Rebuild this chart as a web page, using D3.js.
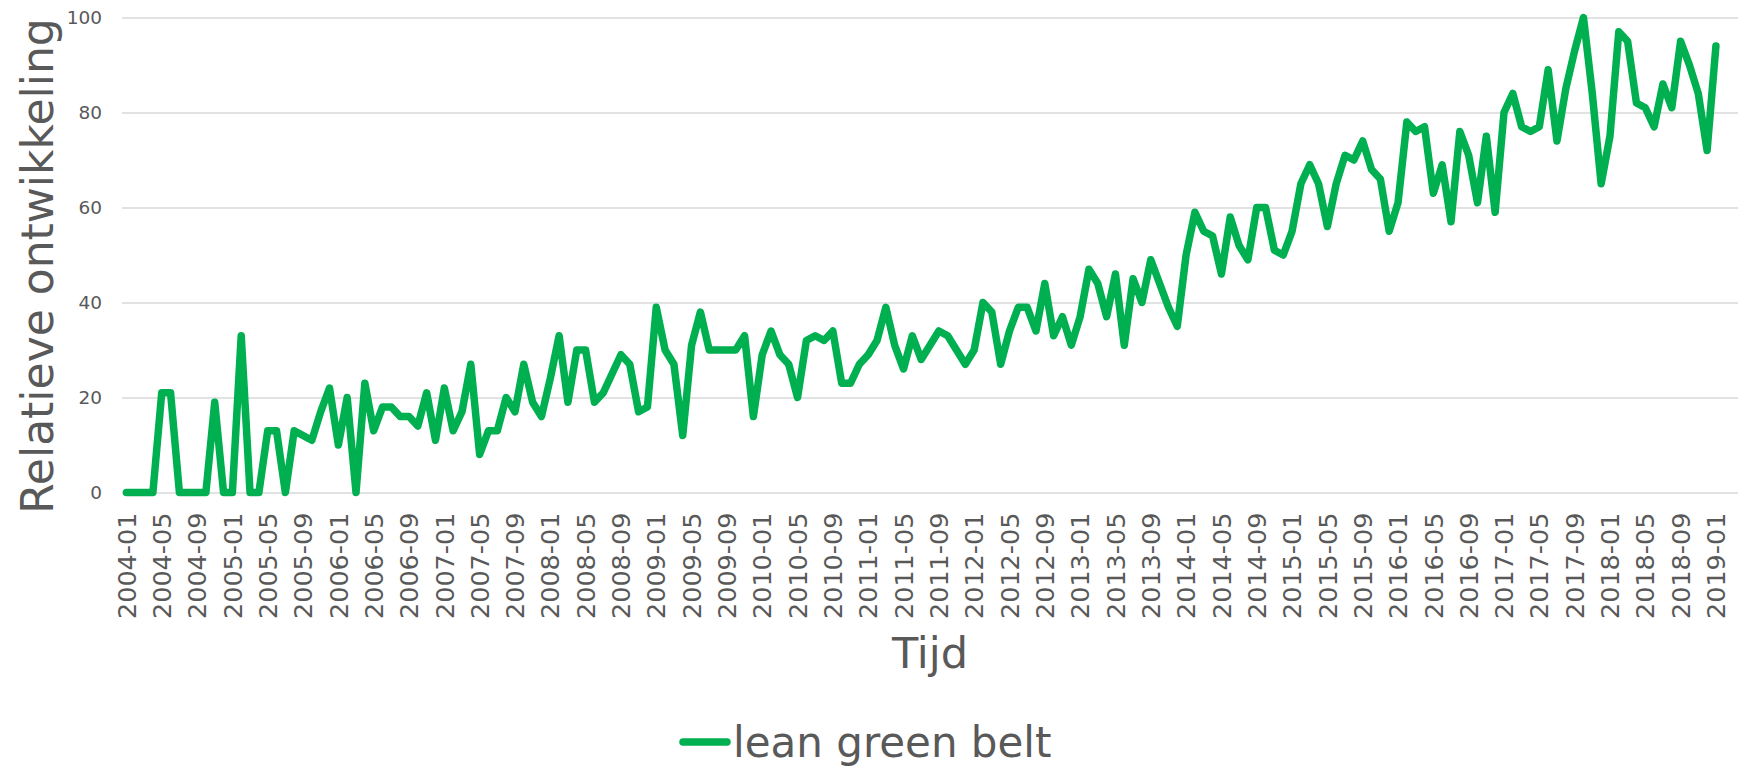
<!doctype html>
<html lang="nl">

<head>
  <meta charset="utf-8" />
  <title>lean green belt</title>
  <script src="https://d3js.org/d3.v7.min.js"></script>
  <style>
    body { margin: 0; background: #fff; }
    text { font-family: Verdana, "DejaVu Sans", sans-serif; fill: #595959; }
  </style>
</head>

<body>
  <div id="my_dataviz"></div>
  <script>
    // months on the category axis (the axis runs two months past the last value)
    const months = [];
    for (let yr = 2004; yr <= 2019; yr++) {
      for (let m = 1; m <= 12; m++) {
        if (yr === 2019 && m > 3) break;
        months.push(yr + "-" + String(m).padStart(2, "0"));
      }
    }

    // relative search interest, 2004-01 .. 2019-01
    const values = [
      0, 0, 0, 0, 21, 21, 0, 0, 0, 0, 19, 0,
      0, 33, 0, 0, 13, 13, 0, 13, 12, 11, 17, 22,
      10, 20, 0, 23, 13, 18, 18, 16, 16, 14, 21, 11,
      22, 13, 17, 27, 8, 13, 13, 20, 17, 27, 19, 16,
      24, 33, 19, 30, 30, 19, 21, 25, 29, 27, 17, 18,
      39, 30, 27, 12, 31, 38, 30, 30, 30, 30, 33, 16,
      29, 34, 29, 27, 20, 32, 33, 32, 34, 23, 23, 27,
      29, 32, 39, 31, 26, 33, 28, 31, 34, 33, 30, 27,
      30, 40, 38, 27, 34, 39, 39, 34, 44, 33, 37, 31,
      37, 47, 44, 37, 46, 31, 45, 40, 49, 44, 39, 35,
      50, 59, 55, 54, 46, 58, 52, 49, 60, 60, 51, 50,
      55, 65, 69, 65, 56, 65, 71, 70, 74, 68, 66, 55,
      61, 78, 76, 77, 63, 69, 57, 76, 71, 61, 75, 59,
      80, 84, 77, 76, 77, 89, 74, 85, 93, 100, 84, 65,
      75, 97, 95, 82, 81, 77, 86, 81, 95, 90, 84, 72,
      94
    ];

    const yTicks = [0, 20, 40, 60, 80, 100];
    const seriesName = "lean green belt";
    const yTitle = "Relatieve ontwikkeling";
    const xTitle = "Tijd";

    const width = 1749,
      height = 768;
    const plotLeft = 122, plotRight = 1738, plotTop = 17.5, plotBottom = 492.5;
    const green = "#00B050";

    const svg = d3.select("#my_dataviz")
      .append("svg")
      .attr("width", width)
      .attr("height", height);

    const x = d3.scaleBand()
      .domain(months)
      .range([plotLeft, plotRight])
      .paddingInner(0)
      .paddingOuter(0);
    const xc = m => x(m) + x.bandwidth() / 2;

    const y = d3.scaleLinear()
      .domain([0, 100])
      .range([plotBottom, plotTop]);

    // gridlines + y tick labels
    const yAxis = d3.axisLeft(y)
      .tickValues(yTicks)
      .tickSize(-(plotRight - plotLeft))
      .tickPadding(20);
    const gy = svg.append("g")
      .attr("transform", `translate(${plotLeft},0)`)
      .call(yAxis);
    gy.select(".domain").remove();
    gy.selectAll(".tick line").attr("stroke", "#d9d9d9").attr("stroke-width", 1.3);
    gy.selectAll(".tick text")
      .attr("font-size", 18.5)
      .style("font-family", 'Verdana, "DejaVu Sans", sans-serif')
      .attr("fill", "#595959");

    // x tick labels, every 4th month, rotated
    const labelMonths = months.filter((d, i) => i % 4 === 0 && i <= 180);
    svg.append("g")
      .selectAll("text")
      .data(labelMonths)
      .join("text")
      .attr("transform", d => `translate(${xc(d)},${plotBottom + 20}) rotate(-90)`)
      .attr("text-anchor", "end")
      .attr("dy", "0.36em")
      .attr("font-size", 25.5)
      .text(d => d);

    // the line itself
    const line = d3.line()
      .x((d, i) => xc(months[i]))
      .y(d => y(d));

    svg.append("path")
      .datum(values)
      .attr("d", line)
      .attr("fill", "none")
      .attr("stroke", green)
      .attr("stroke-width", 7.5)
      .attr("stroke-linejoin", "round")
      .attr("stroke-linecap", "round");

    // axis titles
    svg.append("text")
      .attr("transform", `translate(53,266) rotate(-90)`)
      .attr("text-anchor", "middle")
      .attr("font-size", 44)
      .text(yTitle);

    svg.append("text")
      .attr("x", (plotLeft + plotRight) / 2)
      .attr("y", 668)
      .attr("text-anchor", "middle")
      .attr("font-size", 43)
      .text(xTitle);

    // legend
    const legendG = svg.append("g");
    legendG.append("line")
      .attr("x1", 683).attr("x2", 727)
      .attr("y1", 742).attr("y2", 742)
      .attr("stroke", green)
      .attr("stroke-width", 7.5)
      .attr("stroke-linecap", "round");
    legendG.append("text")
      .attr("x", 733)
      .attr("y", 757)
      .attr("font-size", 42)
      .text(seriesName);
  </script>
</body>

</html>
